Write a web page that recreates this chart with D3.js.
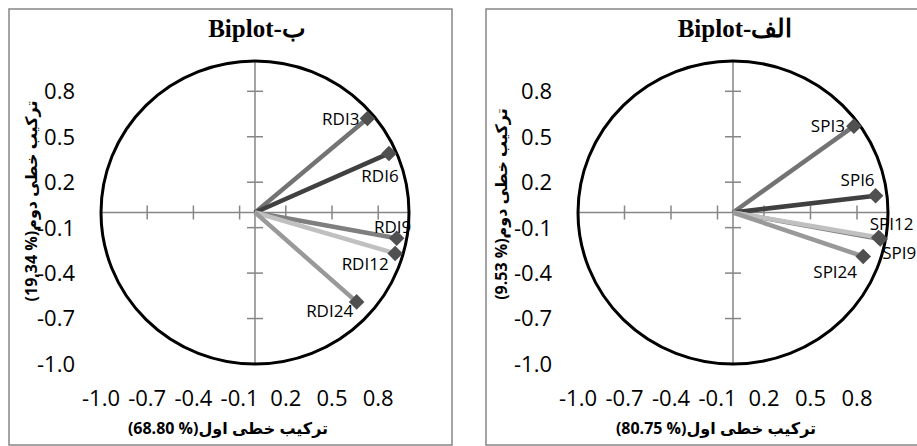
<!DOCTYPE html>
<html>
<head>
<meta charset="utf-8">
<script src="https://cdn.jsdelivr.net/npm/d3@7"></script>
<style>
  body { margin: 0; background: #fff; }
  svg { display: block; }
</style>
</head>
<body>
<div id="chart"></div>
<script>
// loadings
var rdiNames = ["RDI3", "RDI6", "RDI9", "RDI12", "RDI24"];
var rdiPC1 = [0.73, 0.87, 0.92, 0.91, 0.66];
var rdiPC2 = [0.62, 0.39, -0.17, -0.27, -0.59];

var spiNames = ["SPI3", "SPI6", "SPI9", "SPI12", "SPI24"];
var spiPC1 = [0.78, 0.92, 0.95, 0.94, 0.84];
var spiPC2 = [0.57, 0.11, -0.175, -0.165, -0.29];

var tickValues = [-1.0, -0.7, -0.4, -0.1, 0.2, 0.5, 0.8];

var lineColors = ["#737373", "#404040", "#7f7f7f", "#c0c0c0", "#999999"];

var width = 917, height = 446;

var svg = d3.select("#chart").append("svg")
    .attr("width", width)
    .attr("height", height);

function drawPanel(p) {
  var g = svg.append("g");

  // chart frame
  g.append("rect")
      .attr("x", p.frame[0]).attr("y", p.frame[1])
      .attr("width", p.frame[2]).attr("height", p.frame[3])
      .attr("fill", "none")
      .attr("stroke", "#868686")
      .attr("stroke-width", 1.5);

  var x = d3.scaleLinear().domain([-1, 1]).range(p.xRange);
  var y = d3.scaleLinear().domain([-1, 1]).range(p.yRange);

  // axes through the origin
  g.append("line")
      .attr("x1", x(-1)).attr("x2", x(1))
      .attr("y1", y(0)).attr("y2", y(0))
      .attr("stroke", "#868686").attr("stroke-width", 1.5);
  g.append("line")
      .attr("x1", x(0)).attr("x2", x(0))
      .attr("y1", y(1)).attr("y2", y(-1))
      .attr("stroke", "#868686").attr("stroke-width", 1.5);

  g.selectAll(".xtick").data(tickValues).enter().append("line")
      .attr("x1", function(d) { return x(d); })
      .attr("x2", function(d) { return x(d); })
      .attr("y1", y(0) - 7).attr("y2", y(0) + 7)
      .attr("stroke", "#868686").attr("stroke-width", 1.5);
  g.selectAll(".ytick").data(tickValues).enter().append("line")
      .attr("y1", function(d) { return y(d); })
      .attr("y2", function(d) { return y(d); })
      .attr("x1", x(0) - 8).attr("x2", x(0) + 8)
      .attr("stroke", "#868686").attr("stroke-width", 1.5);

  // tick labels sit at the low side of the plot
  g.selectAll(".xlab").data(tickValues).enter().append("text")
      .attr("x", function(d) { return x(d); })
      .attr("y", p.xLabelY)
      .attr("text-anchor", "middle")
      .style("font-family", "'Open Sans', sans-serif")
      .style("font-size", "22px")
      .text(function(d) { return d3.format(".1f")(d).replace("−", "-"); });
  g.selectAll(".ylab").data(tickValues).enter().append("text")
      .attr("x", p.yLabelX)
      .attr("y", function(d) { return y(d); })
      .attr("dy", "0.36em")
      .attr("text-anchor", "end")
      .style("font-family", "'Open Sans', sans-serif")
      .style("font-size", "22px")
      .text(function(d) { return d3.format(".1f")(d).replace("−", "-"); });

  // unit circle
  g.append("ellipse")
      .attr("cx", x(0)).attr("cy", y(0))
      .attr("rx", x(1) - x(0)).attr("ry", y(-1) - y(0))
      .attr("fill", "none")
      .attr("stroke", "#000")
      .attr("stroke-width", 3);

  var rows = p.names.map(function(n, i) {
    return {name: n, pc1: p.pc1[i], pc2: p.pc2[i], i: i};
  });

  g.selectAll(".vec").data(rows).enter().append("line")
      .attr("x1", x(0)).attr("y1", y(0))
      .attr("x2", function(d) { return x(d.pc1); })
      .attr("y2", function(d) { return y(d.pc2); })
      .attr("stroke", function(d) { return lineColors[d.i]; })
      .attr("stroke-width", 4.5);

  g.selectAll(".mark").data(rows).enter().append("rect")
      .attr("x", -5.5).attr("y", -5.5)
      .attr("width", 11).attr("height", 11)
      .attr("fill", "#505050")
      .attr("transform", function(d) {
        return "translate(" + x(d.pc1) + "," + y(d.pc2) + ") rotate(45)";
      });

  g.selectAll(".vlab").data(rows).enter().append("text")
      .attr("x", function(d) { return x(d.pc1) + p.labelPos[d.i][0]; })
      .attr("y", function(d) { return y(d.pc2) + p.labelPos[d.i][1]; })
      .attr("text-anchor", function(d) { return p.labelPos[d.i][2]; })
      .style("font-family", "'Open Sans', sans-serif")
      .style("font-size", "17px")
      .text(function(d) { return d.name; });

  // titles
  g.append("text")
      .attr("x", p.titlePos[0]).attr("y", p.titlePos[1])
      .attr("text-anchor", "middle")
      .style("font-family", "'Liberation Serif', 'Times New Roman', serif")
      .style("font-weight", "bold")
      .style("font-size", "25px")
      .text(p.title);

  g.append("text")
      .attr("x", p.xTitlePos[0]).attr("y", p.xTitlePos[1])
      .attr("text-anchor", "middle")
      .attr("direction", "rtl")
      .style("font-family", "'Open Sans', 'DejaVu Sans', sans-serif")
      .style("font-weight", "bold")
      .style("font-size", "16px")
      .text(p.xTitle);

  g.append("text")
      .attr("transform", "translate(" + p.yTitlePos[0] + "," + p.yTitlePos[1] + ") rotate(-90)")
      .attr("text-anchor", "middle")
      .attr("dy", "0.35em")
      .attr("direction", "rtl")
      .style("font-family", "'Open Sans', 'DejaVu Sans', sans-serif")
      .style("font-weight", "bold")
      .style("font-size", "16px")
      .text(p.yTitle);
}

drawPanel({
  frame: [9, 9, 443, 436],
  xRange: [101, 409],
  yRange: [364, 61],
  xLabelY: 406,
  yLabelX: 75,
  names: rdiNames, pc1: rdiPC1, pc2: rdiPC2,
  labelPos: [[-8, 6, "end"], [-9, 29, "middle"], [-4, -5, "middle"], [-30, 17, "middle"], [-27, 15, "middle"]],
  title: "Biplot-ب",
  titlePos: [257, 37],
  xTitle: "ترکیب خطی اول(% 68.80)",
  xTitlePos: [228, 434],
  yTitle: "ترکیب خطی دوم(% 19,34)",
  yTitlePos: [31, 201]
});

drawPanel({
  frame: [486, 9, 470, 436],
  xRange: [578, 888],
  yRange: [364, 61],
  xLabelY: 406,
  yLabelX: 552,
  names: spiNames, pc1: spiPC1, pc2: spiPC2,
  labelPos: [[-9, 6, "end"], [-18, -10, "middle"], [2, 20, "start"], [-9, -7, "start"], [-28, 22, "middle"]],
  title: "Biplot-الف",
  titlePos: [735, 37],
  xTitle: "ترکیب خطی اول(% 80.75)",
  xTitlePos: [716, 434],
  yTitle: "ترکیب خطی دوم(% 9.53)",
  yTitlePos: [501, 204]
});
</script>
</body>
</html>
